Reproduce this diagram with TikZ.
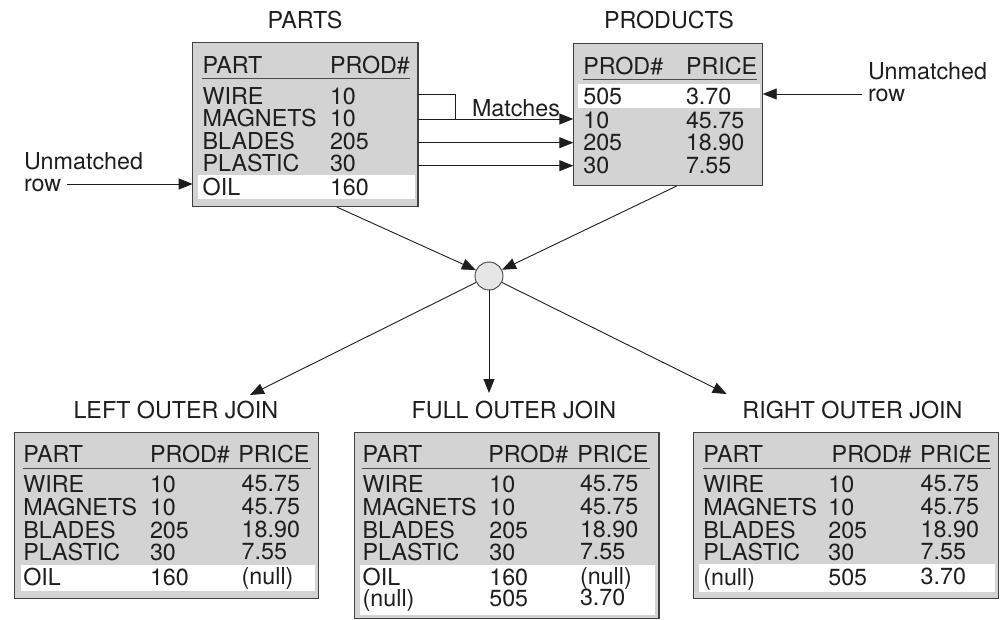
\documentclass[tikz,border=0pt]{standalone}
\usepackage{fontspec}
\setmainfont{TeX Gyre Heros}
\usetikzlibrary{arrows.meta,calc}
\definecolor{boxgray}{HTML}{D3D3D3}
\definecolor{boxline}{HTML}{404040}
\definecolor{txtcol}{HTML}{1E1E1E}
\definecolor{circfill}{HTML}{E6E6E6}
\newcommand\bigf{\fontsize{23.3}{24}\selectfont}
% one text cell: name, x, baseline y, text
\newcommand\cellt[4]{\node[txt] (#1) at (#2,#3) {#4};}
% three-column row: prefix, baseline, x1, x2, x3, t1, t2, t3
\newcommand\rowiii[8]{%
  \cellt{#1a}{#3}{#2}{#6}%
  \cellt{#1b}{#4}{#2}{#7}%
  \cellt{#1c}{#5}{#2-1}{#8}}
\newcommand\rowii[6]{%
  \cellt{#1a}{#3}{#2}{#5}%
  \cellt{#1b}{#4}{#2}{#6}}
\begin{document}
\begin{tikzpicture}[x=1pt,y=-1pt,
  txt/.style={font=\bigf, text=txtcol, anchor=base west, inner sep=0pt, outer sep=0pt},
  ttl/.style={font=\bigf, text=txtcol, anchor=base, inner sep=0pt},
  tbl/.style={draw=boxline, fill=boxgray, line width=1.3pt, anchor=north west, inner sep=0pt, outer sep=0pt},
  hl/.style={fill=white},
  uline/.style={draw=txtcol!80, line width=1pt},
  arr/.style={draw=txtcol, line width=0.9pt, -{Triangle[length=14pt,width=11pt]}},
  conn/.style={draw=txtcol, line width=0.9pt}]
\useasboundingbox (0,0) rectangle (1001,620);
\fill[white] (0,0) rectangle (1001,620);

% ---------- PARTS ----------
\node[ttl] (tparts) at (305,28.3) {PARTS};
\node[tbl, minimum width=225.3pt, minimum height=164pt] (parts) at (192.7,42.7) {};
\fill[hl] (198,175) rectangle (415,199);
\draw[uline] (201.7,78.7) -- (410,78.7);
\rowii{ph}{74}{202.7}{330}{PART}{PROD\#}
\rowii{p1}{105}{202.7}{330}{WIRE}{10}
\rowii{p2}{126.7}{202.7}{330}{MAGNETS}{10}
\rowii{p3}{149.3}{202.7}{330}{BLADES}{205}
\rowii{p4}{171.7}{202.7}{330}{PLASTIC}{30}
\rowii{p5}{196}{202.7}{330}{OIL}{160}

% ---------- PRODUCTS ----------
\node[ttl] (tprod) at (669,28.3) {PRODUCTS};
\node[tbl, minimum width=189.4pt, minimum height=142.4pt] (products) at (573.3,43.3) {};
\fill[hl] (578,84.3) rectangle (760,108.3);
\draw[uline] (582.7,80) -- (756.7,80);
\rowii{qh}{75}{583.3}{686}{PROD\#}{PRICE}
\rowii{q1}{105}{583.3}{686}{505}{3.70}
\rowii{q2}{128.3}{583.3}{686}{10}{45.75}
\rowii{q3}{150.7}{583.3}{686}{205}{18.90}
\rowii{q4}{173.3}{583.3}{686}{30}{7.55}

% ---------- Matches connectors ----------
\coordinate (mw) at (455.7,94.3);
\coordinate (mm) at (455.7,119);
\draw[conn] (parts.east |- mw) -- (mw) -- (mm);
\draw[arr] (parts.east |- mm) -- (products.west |- mm);
\draw[arr] (parts.east |- 0,142.7) -- (products.west |- 0,142.7);
\draw[arr] (parts.east |- 0,165.7) -- (products.west |- 0,165.7);
\node[txt] (matches) at (472,116.7) {Matches};

% ---------- Unmatched labels ----------
\node[txt] (ul1) at (24,169.3) {Unmatched};
\node[txt] (ul2) at (24,191.7) {row};
\coordinate (ulx) at (66.7,184);
\draw[arr] (ulx) -- (parts.west |- ulx);
\node[txt] (ur1) at (868,79.3) {Unmatched};
\node[txt] (ur2) at (868,101.7) {row};
\coordinate (urx) at (861.7,94);
\draw[arr] (urx) -- (products.east |- urx);

% ---------- join circle ----------
\node[circle, draw=boxline, line width=0.9pt, fill=circfill, minimum size=28pt, inner sep=0pt] (join) at (489,276) {};
\coordinate (pb) at (336.7,207);
\coordinate (qb) at (676.7,186);
\draw[arr] (pb) -- (join);
\draw[arr] (qb) -- (join);
\coordinate (tl) at (250,395);
\coordinate (tm) at (489,393);
\coordinate (tr) at (726.7,394);
\draw[arr] (join) -- (tl);
\draw[arr] (join) -- (tm);
\draw[arr] (join) -- (tr);

% ---------- LEFT OUTER JOIN ----------
\node[ttl] (tleft) at (175.8,418.3) {LEFT OUTER JOIN};
\node[tbl, minimum width=304pt, minimum height=165.6pt] (left) at (14.3,432.7) {};
\fill[hl] (20.7,565) rectangle (315,591);
\draw[uline] (22.7,468.7) -- (310.7,468.7);
\rowii{lh}{462.7}{23.3}{150}{PART}{PROD\#}
\cellt{lhc}{238.3}{462.7}{PRICE}
\rowiii{l1}{492.7}{23.3}{150}{241.7}{WIRE}{10}{45.75}
\rowiii{l2}{515}{23.3}{150}{241.7}{MAGNETS}{10}{45.75}
\rowiii{l3}{538.3}{23.3}{150}{241.7}{BLADES}{205}{18.90}
\rowiii{l4}{560}{23.3}{150}{241.7}{PLASTIC}{30}{7.55}
\rowiii{l5}{585}{23.3}{150}{241.7}{OIL}{160}{(null)}

% ---------- FULL OUTER JOIN ----------
\node[ttl] (tfull) at (514,418) {FULL OUTER JOIN};
\node[tbl, minimum width=304.7pt, minimum height=186pt] (full) at (354.3,432.7) {};
\fill[hl] (360,565) rectangle (655,615);
\draw[uline] (361.7,468.7) -- (650,468.7);
\rowii{fh}{462.7}{362.7}{488.3}{PART}{PROD\#}
\cellt{fhc}{577.3}{462.7}{PRICE}
\rowiii{f1}{492.7}{362.7}{489.3}{580}{WIRE}{10}{45.75}
\rowiii{f2}{515}{362.7}{489.3}{580}{MAGNETS}{10}{45.75}
\rowiii{f3}{538.3}{362.7}{489.3}{580}{BLADES}{205}{18.90}
\rowiii{f4}{560}{362.7}{489.3}{580}{PLASTIC}{30}{7.55}
\rowiii{f5}{585}{362.7}{489.3}{580}{OIL}{160}{(null)}
\rowiii{f6}{606.7}{362.7}{489.3}{580}{(null)}{505}{3.70}

% ---------- RIGHT OUTER JOIN ----------
\node[ttl] (tright) at (852.5,418) {RIGHT OUTER JOIN};
\node[tbl, minimum width=305pt, minimum height=165.6pt] (right) at (693.3,432.7) {};
\fill[hl] (699.3,564) rectangle (995,592.3);
\draw[uline] (703.3,468.7) -- (990.7,468.7);
\rowii{rh}{462.7}{703.3}{831.7}{PART}{PROD\#}
\cellt{rhc}{920}{462.7}{PRICE}
\rowiii{r1}{492.7}{703.3}{828.3}{920.7}{WIRE}{10}{45.75}
\rowiii{r2}{515}{703.3}{828.3}{920.7}{MAGNETS}{10}{45.75}
\rowiii{r3}{538.3}{703.3}{828.3}{920.7}{BLADES}{205}{18.90}
\rowiii{r4}{560}{703.3}{828.3}{920.7}{PLASTIC}{30}{7.55}
\rowiii{r5}{585}{703.3}{828.3}{920.7}{(null)}{505}{3.70}
\end{tikzpicture}
\end{document}
